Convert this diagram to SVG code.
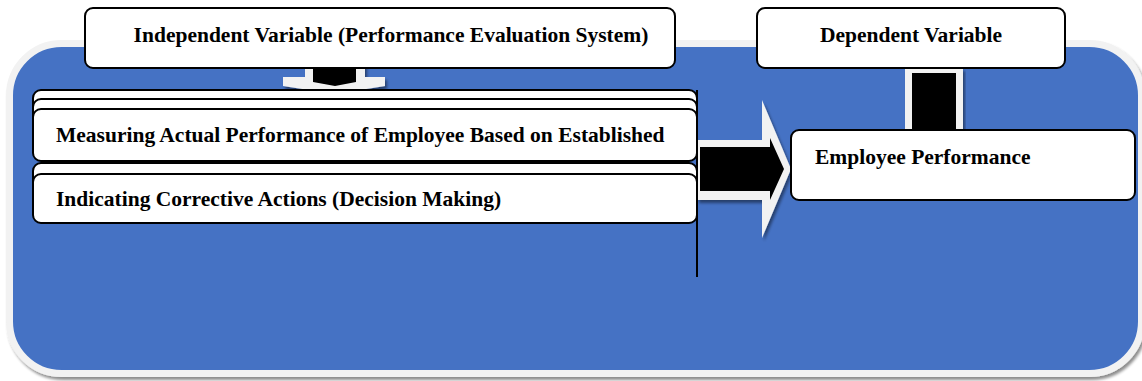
<svg xmlns="http://www.w3.org/2000/svg" width="1142" height="381" viewBox="0 0 1142 381">
  <defs>
    <filter id="shadow" x="-5%" y="-5%" width="110%" height="120%">
      <feGaussianBlur in="SourceAlpha" stdDeviation="1.5"/>
      <feOffset dx="2" dy="3"/>
      <feComponentTransfer><feFuncA type="linear" slope="0.45"/></feComponentTransfer>
      <feMerge><feMergeNode/><feMergeNode in="SourceGraphic"/></feMerge>
    </filter>
  </defs>
  <style>
    .box { fill: #ffffff; stroke: #000000; stroke-width: 2; }
    .lbl { font-family: "Liberation Serif", "Times New Roman", serif; font-weight: bold; font-size: 21.5px; fill: #000000; }
    .halo { fill: #f2f2f2; }
    .core { fill: #000000; }
  </style>

  <!-- background panel -->
  <g id="panel">
    <rect x="9.5" y="43.5" width="1132" height="330" rx="52" fill="#4472c4" stroke="#f2f2f2" stroke-width="7" filter="url(#shadow)"/>
  </g>

  <g id="connectors">
    <!-- down arrow under independent variable -->
    <polygon class="halo" points="305,60 365,60 365,77 385,77 385,86 335,94 283,86 283,77 305,77" filter="url(#shadow)"/>
    <polygon class="core" points="313,60 356,60 356,82 335,86 313,82"/>
    <!-- right arrow to employee performance -->
    <polygon class="halo" points="697,140 762,140 762,100 791,169 762,238 762,200 697,200" filter="url(#shadow)"/>
    <polygon class="core" points="700,147 770,147 770,138 784,169 770,200 770,191 700,191"/>
    <!-- vertical link from dependent variable -->
    <rect class="halo" x="905" y="68" width="58" height="64" filter="url(#shadow)"/>
    <rect class="core" x="912" y="73" width="44" height="59"/>
    <!-- divider line -->
    <line x1="697" y1="90" x2="697" y2="277" stroke="#000" stroke-width="2"/>
  </g>

  <g id="independent">
    <rect class="box" x="85" y="8" width="590" height="60" rx="8"/>
    <text class="lbl" x="391" y="42" text-anchor="middle">Independent Variable (Performance Evaluation System)</text>
  </g>

  <g id="measuring">
    <rect class="box" x="33" y="90" width="664" height="50" rx="8"/>
    <rect class="box" x="33" y="99" width="664" height="50" rx="8"/>
    <rect class="box" x="33" y="109" width="664" height="52" rx="8"/>
    <text class="lbl" x="56" y="142">Measuring Actual Performance of Employee Based on Established</text>
  </g>

  <g id="corrective">
    <rect class="box" x="33" y="163" width="664" height="50" rx="8"/>
    <rect class="box" x="33" y="174" width="664" height="49" rx="8"/>
    <text class="lbl" x="56" y="206">Indicating Corrective Actions (Decision Making)</text>
  </g>

  <g id="dependent">
    <rect class="box" x="757" y="8" width="308" height="60" rx="8"/>
    <text class="lbl" x="911" y="42" text-anchor="middle">Dependent Variable</text>
  </g>

  <g id="performance">
    <rect class="box" x="791" y="130" width="344" height="70" rx="8"/>
    <text class="lbl" x="815" y="164">Employee Performance</text>
  </g>
</svg>
